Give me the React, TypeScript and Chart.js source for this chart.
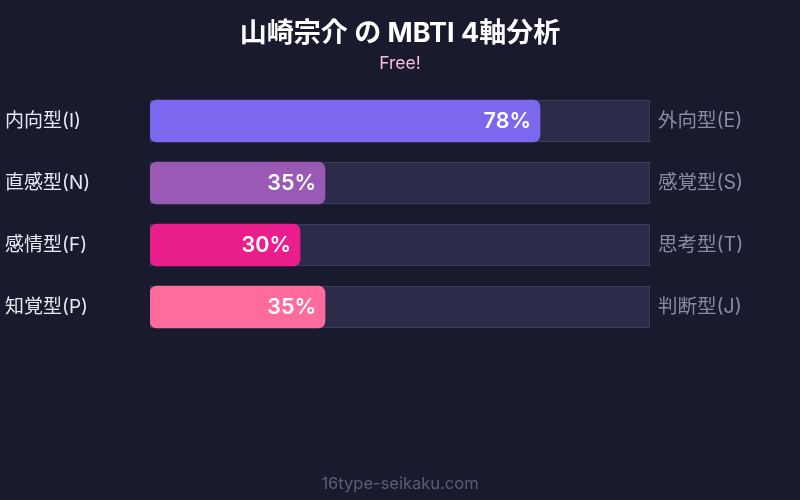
import React, { useEffect, useRef } from "react";
import { Chart, registerables } from "chart.js";

Chart.register(...registerables);

const leftLabels = ["内向型(I)", "直感型(N)", "感情型(F)", "知覚型(P)"];
const rightLabels = ["外向型(E)", "感覚型(S)", "思考型(T)", "判断型(J)"];
const values = [78, 35, 30, 35];
const trackValues = [100, 100, 100, 100];
const barColors = ["#7b68ee", "#9b59b6", "#e91e8c", "#ff6b9d"];
const titleText = "山崎宗介 の MBTI 4軸分析";
const subtitleText = "Free!";
const footerText = "16type-seikaku.com";

const FONT = "Inter, 'Noto Sans CJK JP', sans-serif";

export default function App() {
  const ref = useRef<HTMLCanvasElement | null>(null);

  useEffect(() => {
    const canvas = ref.current;
    if (!canvas) return;

    const textPlugin = {
      id: "texts",
      beforeDraw(chart: any) {
        const { ctx, width, height } = chart;
        ctx.save();
        ctx.fillStyle = "#1a1a2e";
        ctx.fillRect(0, 0, width, height);
        ctx.restore();
      },
      afterDatasetsDraw(chart: any) {
        const { ctx, width } = chart;
        ctx.save();
        ctx.textAlign = "center";
        ctx.textBaseline = "middle";
        ctx.fillStyle = "#ffffff";
        ctx.font = `bold 27px ${FONT}`;
        ctx.fillText(titleText, width / 2, 34);
        ctx.fillStyle = "#f8bbd9";
        ctx.font = `17.5px ${FONT}`;
        ctx.fillText(subtitleText, width / 2, 64);
        ctx.fillStyle = "#5c5c78";
        ctx.font = `16.5px ${FONT}`;
        ctx.fillText(footerText, width / 2, 484);

        const meta = chart.getDatasetMeta(1);
        ctx.textAlign = "right";
        ctx.fillStyle = "#ffffff";
        ctx.font = `600 21.5px ${FONT}`;
        meta.data.forEach((bar: any, i: number) => {
          ctx.fillText(values[i] + "%", bar.x - 9, bar.y + 1);
        });
        ctx.restore();
      },
    };

    const chart = new Chart(canvas, {
      type: "bar",
      data: {
        labels: leftLabels,
        datasets: [
          {
            data: trackValues,
            backgroundColor: "#2d2b4a",
            borderColor: "#45435f",
            borderWidth: 1,
            borderSkipped: false,
            barThickness: 42,
            order: 2,
          },
          {
            data: values,
            backgroundColor: barColors,
            borderWidth: 0,
            borderRadius: 7,
            borderSkipped: false,
            barThickness: 42,
            order: 1,
          },
        ],
      },
      options: {
        indexAxis: "y",
        responsive: false,
        animation: false,
        devicePixelRatio: 1,
        layout: { padding: { top: 90, bottom: 162, left: 5, right: 0 } },
        plugins: {
          legend: { display: false },
          tooltip: { enabled: false },
          title: { display: false },
        },
        datasets: { bar: { grouped: false } } as any,
        scales: {
          x: {
            display: false,
            min: 0,
            max: 100,
            grid: { display: false },
          },
          y: {
            position: "left",
            grid: { display: false, drawTicks: false },
            border: { display: false },
            ticks: {
              color: "#e8e8f0",
              font: { size: 19, family: FONT },
              crossAlign: "far",
              padding: 0,
            },
            afterFit(axis: any) {
              axis.width = 145;
            },
          },
          y2: {
            type: "category",
            labels: rightLabels,
            position: "right",
            grid: { display: false, drawTicks: false },
            border: { display: false },
            ticks: {
              color: "#8a8aa3",
              font: { size: 19.5, family: FONT },
              crossAlign: "near",
              padding: 8,
            },
            afterFit(axis: any) {
              axis.width = 150;
            },
          },
        },
      } as any,
      plugins: [textPlugin],
    });

    return () => chart.destroy();
  }, []);

  return (
    <div style={{ position: "fixed", left: 0, top: 0, width: 800, height: 500, background: "#1a1a2e" }}>
      <canvas ref={ref} width={800} height={500} style={{ width: 800, height: 500, display: "block" }} />
    </div>
  );
}
